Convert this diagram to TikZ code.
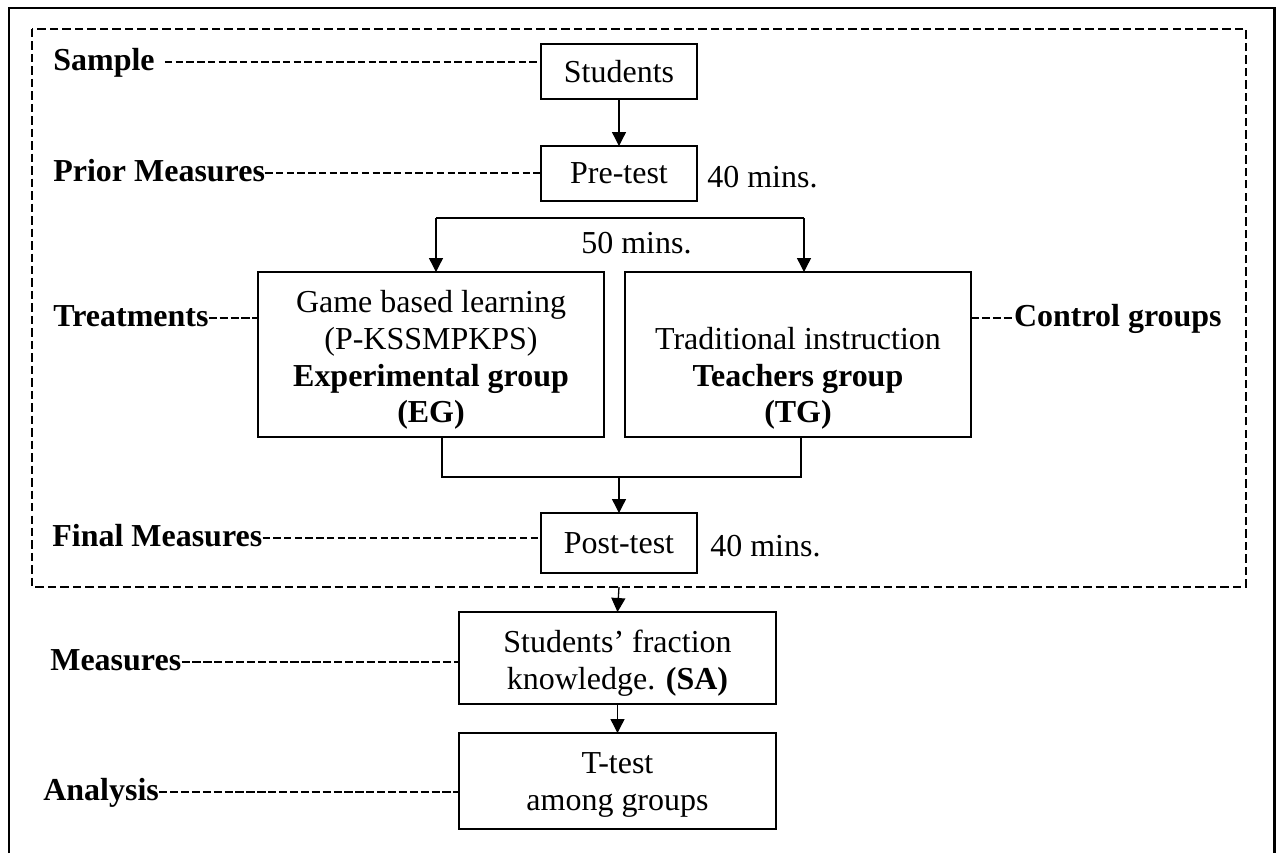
\documentclass[tikz,border=0pt]{standalone}
\usepackage{fontspec}
\setmainfont{Liberation Serif}
\usetikzlibrary{arrows.meta}
\newcommand{\figfont}{\fontsize{18.2}{21}\selectfont}

\begin{document}
\begin{tikzpicture}[
  x=0.02cm, y=-0.02cm,
  every node/.style={font=\figfont},
  box/.style={draw=black, line width=0.75pt, align=center, inner sep=0pt, outer sep=0pt},
  lbl/.style={font=\figfont\bfseries, anchor=base west, inner sep=0pt},
  note/.style={anchor=base west, inner sep=0pt},
  flow/.style={line width=0.75pt, -{Triangle[length=0.28cm, width=0.28cm]}},
  hyph/.style={line width=0.75pt, dash pattern=on 4.2pt off 1.9pt},
  boldhyph/.style={line width=1.5pt, dash pattern=on 4.7pt off 1.5pt},
  frame/.style={line width=0.6pt, dash pattern=on 4.8pt off 2.3pt}
]
  \useasboundingbox (0,0) rectangle (1276,853);

  % Marco exterior (abierto abajo) y marco discontinuo del estudio
  \draw[line width=1.5pt] (9,853) -- (9,8) -- (1274.5,8) -- (1274.5,853);
  \coordinate (frtl) at (32,29);
  \coordinate (frbr) at (1246,587);
  \draw[frame] (frtl) rectangle (frbr);

  % Cajas del diseño
  \node[box, minimum width=3.12cm, minimum height=1.10cm] (stud) at (619,71.5) {Students};
  \node[box, minimum width=3.12cm, minimum height=1.10cm] (pre) at (619,173.5) {Pre-test};
  \node[box, minimum width=6.92cm, minimum height=3.30cm, text height=2.88cm, text depth=0.14cm] (eg) at (431,354.5)
    {Game based learning\\(P-KSSMPKPS)\\\textbf{Experimental group}\\\textbf{(EG)}};
  \node[box, minimum width=6.92cm, minimum height=3.30cm, text height=2.88cm, text depth=0.14cm] (tg) at (798,354.5)
    {Traditional instruction\\\textbf{Teachers group}\\\textbf{(TG)}};
  \node[box, minimum width=3.12cm, minimum height=1.20cm] (post) at (619,543) {Post-test};
  \node[box, minimum width=6.34cm, minimum height=1.84cm, text height=1.38cm, text depth=0.14cm] (sa) at (617.5,658)
    {Students’ fraction\\knowledge. \textbf{(SA)}};
  \node[box, minimum width=6.34cm, minimum height=1.92cm, text height=1.30cm, text depth=0.14cm] (tt) at (617.5,781)
    {T-test\\among groups};

  % Tiempos
  \node[note] (t40a) at (707,187) {40 mins.};
  \node[note] (t50) at (581,253) {50 mins.};
  \node[note] (t40b) at (710,556) {40 mins.};

  % Etiquetas de la izquierda y derecha
  \node[lbl] (smp) at (53,70) {Sample};
  \node[lbl] (prior) at (53,181) {Prior Measures};
  \node[lbl] (treat) at (53,326) {Treatments};
  \node[lbl, anchor=base east] (ctrl) at (1222,326) {Control groups};
  \node[lbl] (final) at (52,546) {Final Measures};
  \node[lbl] (meas) at (50,670) {Measures};
  \node[lbl] (anl) at (43,800) {Analysis};

  % Guiones de las etiquetas a las cajas
  \draw[hyph] (smp.east |- 0,62) ++(10,0) -- (stud.west |- 0,62);
  \draw[hyph] (prior.east |- 0,173) -- (pre.west |- 0,173);
  \draw[boldhyph] (treat.east |- 0,318) -- (eg.west |- 0,318);
  \draw[boldhyph] (tg.east |- 0,318) -- (ctrl.west |- 0,318);
  \draw[hyph] (final.east |- 0,538) -- (post.west |- 0,538);
  \draw[boldhyph] (meas.east |- 0,662) -- (sa.west |- 0,662);
  \draw[boldhyph] (anl.east |- 0,792) -- (tt.west |- 0,792);

  % Flechas
  \draw[flow] (stud) -- (pre);
  \coordinate (brl) at (436,218);
  \coordinate (brr) at (804,218);
  \draw[line width=0.75pt] (brl) -- (brr);
  \draw[flow] (brl) -- (brl |- eg.north);
  \draw[flow] (brr) -- (brr |- tg.north);
  \coordinate (mgl) at (442,477);
  \coordinate (mgr) at (801,477);
  \draw[line width=0.75pt] (mgl |- eg.south) -- (mgl) -- (mgr) -- (mgr |- tg.south);
  \draw[flow] (mgl -| post.north) -- (post.north);
  \draw[flow] (post.south |- frbr) -- (sa.north);
  \draw[flow] (sa) -- (tt);
\end{tikzpicture}
\end{document}
